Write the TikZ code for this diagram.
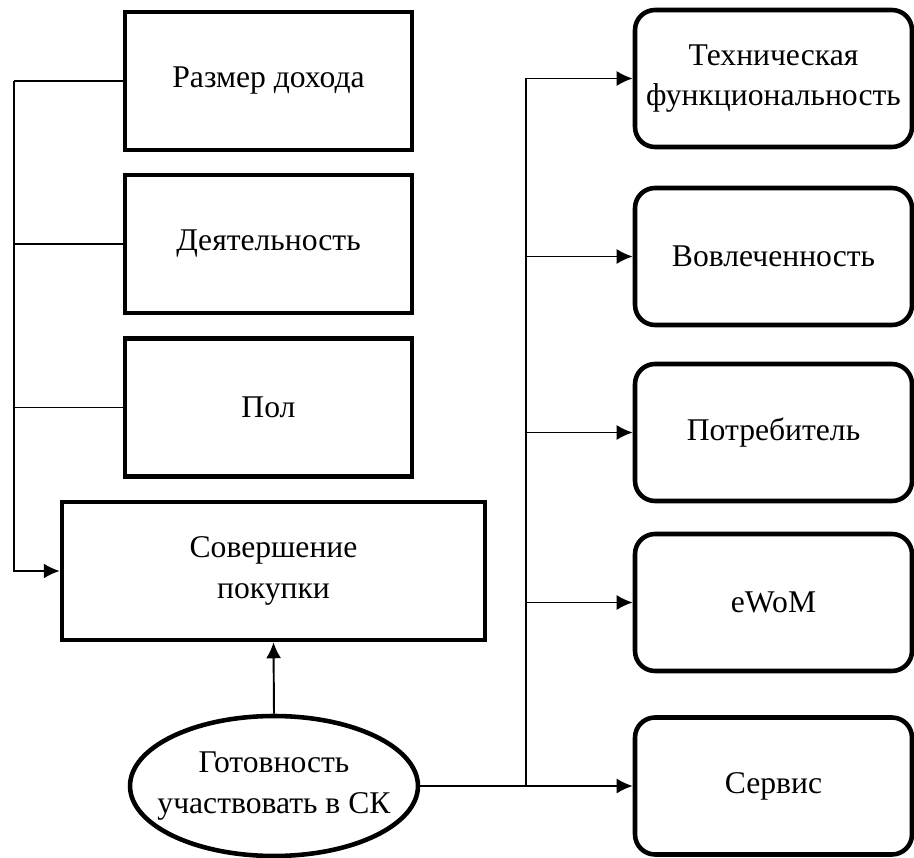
\documentclass[tikz,border=0pt]{standalone}
\usepackage{fontspec}
\setmainfont{Liberation Serif}
\usetikzlibrary{shapes.geometric,arrows.meta}

\tikzset{
every node/.style={font=\fontsize{18}{23}\selectfont,align=center,inner sep=0pt},
sqbox/.style= {rectangle,draw,line width=2.6pt,minimum width=5.74cm,minimum height=2.76cm},
buybox/.style= {rectangle,draw,line width=2.6pt,minimum width=8.46cm,minimum height=2.76cm},
rndbox/.style= {rectangle,draw,line width=2.6pt,rounded corners=0.4cm,minimum width=5.54cm,minimum height=2.74cm},
ovalbox/.style= {ellipse,draw,line width=2.6pt,inner xsep=-0.3cm,minimum width=5.76cm,minimum height=2.8cm},
conn/.style= {line width=1.1pt}
}

\begin{document}
\begin{tikzpicture}[x=0.02cm,y=-0.02cm,>={Latex[length=0.32cm,width=0.3cm]}]
\useasboundingbox (0,0) rectangle (914,858);

% the boxes on the left
\node[sqbox] (r1) at (268.5,81) {Размер дохода};
\node[sqbox] (r2) at (268.5,244) {Деятельность};
\node[sqbox] (r3) at (268.5,407.5) {Пол};
\node[buybox] (buy) at (273.5,571) {Совершение\\покупки};
\node[ovalbox] (will) at (274,786) {Готовность\\участвовать в СК};

% the boxes on the right
\node[rndbox] (t1) at (773.5,78.5) {Техническая\\функциональность};
\node[rndbox] (t2) at (773.5,256.5) {Вовлеченность};
\node[rndbox] (t3) at (773.5,432.5) {Потребитель};
\node[rndbox] (t4) at (773.5,602.5) {eWoM};
\node[rndbox] (t5) at (773.5,786) {Сервис};

\coordinate (lbus) at (14,0);
\coordinate (rbus) at (526,0);

% lines on the left side
\foreach \value in {1,2,3}
  \draw[conn] (r\value.west) -- (r\value.west -| lbus);
\draw[conn,->] (r1.west -| lbus) |- (buy.west);

\draw[conn,->] (will.north) -- (buy.south);

% lines on the right side
\draw[conn] (will.east) -- (will.east -| rbus);
\draw[conn] (t1.west -| rbus) -- (will.east -| rbus);
\foreach \value in {1,...,5}
  \draw[conn,->] (t\value.west -| rbus) -- (t\value.west);
\end{tikzpicture}
\end{document}
